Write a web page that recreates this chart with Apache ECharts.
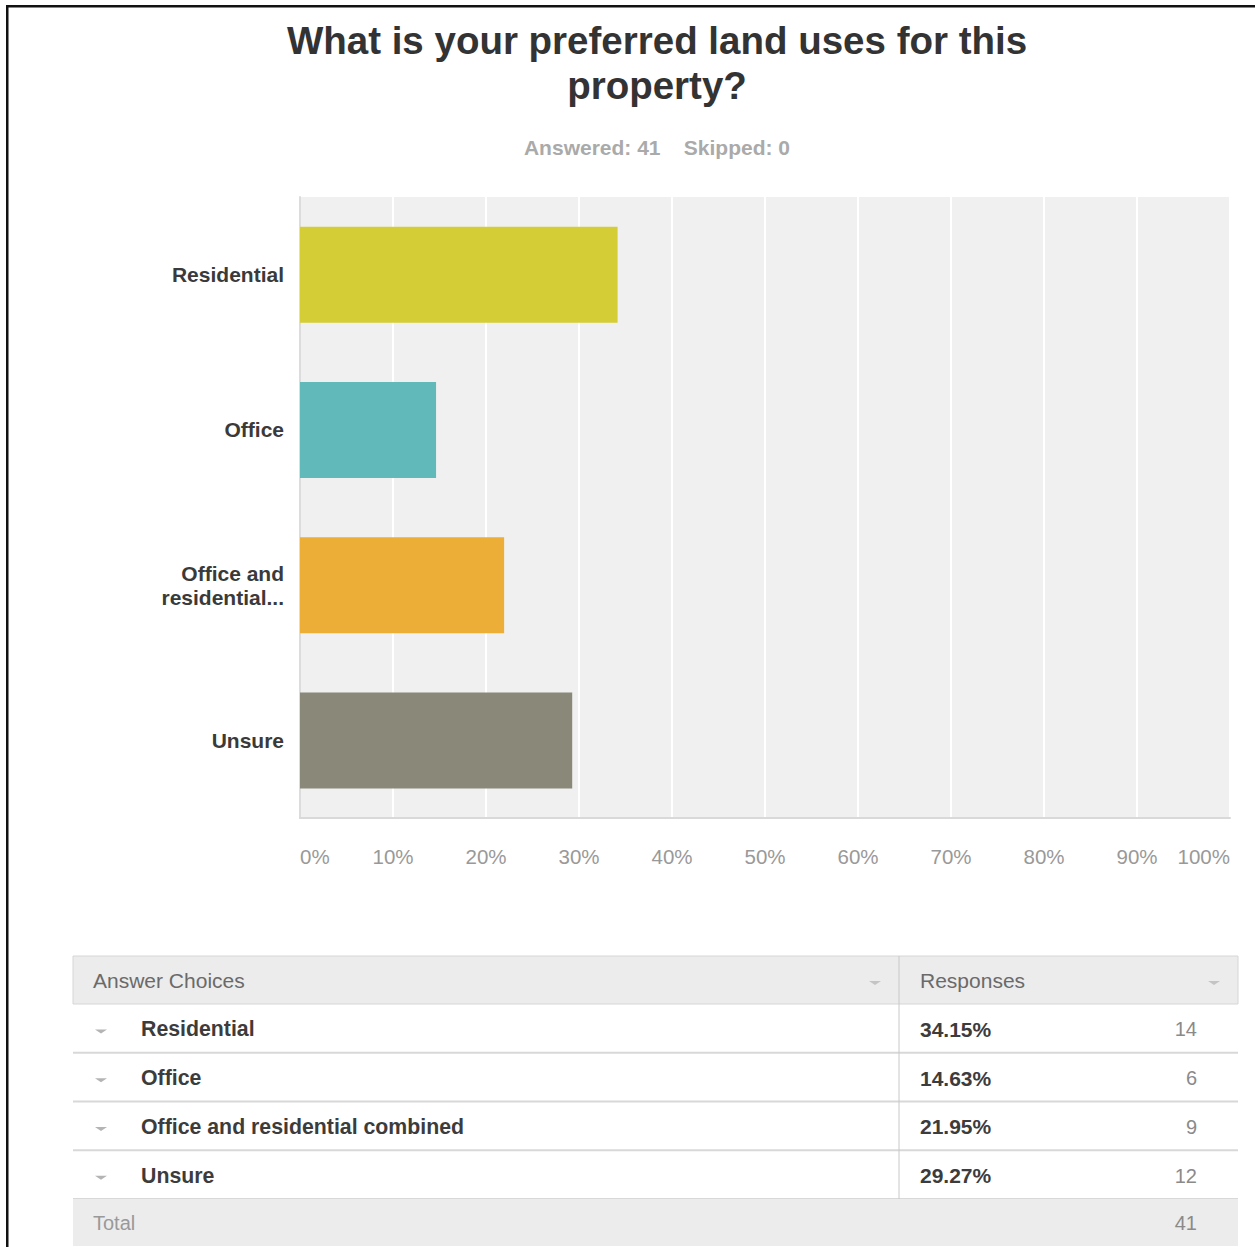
<!DOCTYPE html>
<html>
<head>
<meta charset="utf-8">
<style>
  html, body { margin: 0; padding: 0; background: #fff; }
  #main { width: 1255px; height: 1247px; }
</style>
<script src="https://cdn.jsdelivr.net/npm/echarts@6/dist/echarts.min.js"></script>
</head>
<body>
<div id="main"></div>
<script>
// answer choices (table names and shortened axis names)
var choices = ['Residential', 'Office', 'Office and residential combined', 'Unsure'];
var axisNames = ['Residential', 'Office', 'Office and\nresidential...', 'Unsure'];
// response share in percent and counts
var percents = [34.15, 14.63, 21.95, 29.27];
var counts = [14, 6, 9, 12];
var answered = 41, skipped = 0;
var barColors = ['#d4cd36', '#62b9b9', '#edae38', '#8a8878'];
var tickLabels = ['0%', '10%', '20%', '30%', '40%', '50%', '60%', '70%', '80%', '90%', '100%'];

var FONT = '"Liberation Sans", Arial, Helvetica, sans-serif';

var myChart = echarts.init(document.getElementById('main'), null, {renderer: 'svg'});

// table drawn with graphic elements
var tLeft = 73, tRight = 1238, colX = 899;
var headTop = 956, headH = 48, rowH = 48.75;
var rowsTop = headTop + headH;
var totalTop = rowsTop + rowH * choices.length;

var graphics = [];
// page frame lines (left and top)
graphics.push({type: 'rect', shape: {x: 6, y: 5, width: 1249, height: 2.5}, style: {fill: '#111'}});
graphics.push({type: 'rect', shape: {x: 6, y: 5, width: 2.5, height: 1242}, style: {fill: '#111'}});

// header
graphics.push({type: 'rect', shape: {x: tLeft, y: headTop, width: tRight - tLeft, height: headH},
  style: {fill: '#ececec', stroke: '#d6d6d6', lineWidth: 1}});
graphics.push({type: 'text', x: 93, y: headTop + headH / 2,
  style: {text: 'Answer Choices', font: '21px ' + FONT, fill: '#6a6a6a', verticalAlign: 'middle'}});
graphics.push({type: 'text', x: 920, y: headTop + headH / 2,
  style: {text: 'Responses', font: '21px ' + FONT, fill: '#6a6a6a', verticalAlign: 'middle'}});
[875, 1214].forEach(function (ax) {
  graphics.push({type: 'polygon', shape: {points: [[ax - 6, headTop + 25], [ax + 6, headTop + 25], [ax, headTop + 29]]},
    style: {fill: '#c4c4c4'}});
});

// body rows
for (var i = 0; i < choices.length; i++) {
  var rowY = rowsTop + rowH * i;
  var cy = rowY + rowH / 2 + 1;
  graphics.push({type: 'line', shape: {x1: tLeft, y1: rowY + rowH, x2: tRight, y2: rowY + rowH},
    style: {stroke: '#d8d8d8', lineWidth: 2}});
  graphics.push({type: 'polygon', shape: {points: [[95, cy], [107, cy], [101, cy + 4]]},
    style: {fill: '#b4b4b4'}});
  graphics.push({type: 'text', x: 141, y: cy,
    style: {text: choices[i], font: 'bold 21.3px ' + FONT, fill: '#3c3c3c', verticalAlign: 'middle'}});
  graphics.push({type: 'text', x: 920, y: cy,
    style: {text: percents[i].toFixed(2) + '%', font: 'bold 21px ' + FONT, fill: '#3c3c3c', verticalAlign: 'middle'}});
  graphics.push({type: 'text', x: 1197, y: cy,
    style: {text: String(counts[i]), font: '20px ' + FONT, fill: '#8a8a8a', align: 'right', verticalAlign: 'middle'}});
}
// column divider
graphics.push({type: 'line', shape: {x1: colX, y1: headTop, x2: colX, y2: totalTop},
  style: {stroke: '#c8c8c8', lineWidth: 1}});

// total row
graphics.push({type: 'rect', shape: {x: tLeft, y: totalTop, width: tRight - tLeft, height: 47},
  style: {fill: '#ececec'}});
graphics.push({type: 'text', x: 93, y: totalTop + 24,
  style: {text: 'Total', font: '20px ' + FONT, fill: '#999', verticalAlign: 'middle'}});
graphics.push({type: 'text', x: 1197, y: totalTop + 24,
  style: {text: String(answered), font: '20px ' + FONT, fill: '#8a8a8a', align: 'right', verticalAlign: 'middle'}});

var option = {
  backgroundColor: '#fff',
  animation: false,
  title: {
    text: 'What is your preferred land uses for this\nproperty?',
    subtext: 'Answered: ' + answered + '    Skipped: ' + skipped,
    left: 652,
    textAlign: 'center',
    top: 13,
    itemGap: 29,
    textStyle: {fontFamily: FONT, fontSize: 38.5, fontWeight: 'bold', color: '#333', lineHeight: 45},
    subtextStyle: {fontFamily: FONT, fontSize: 21, fontWeight: 'bold', color: '#aaa'}
  },
  grid: {
    left: 300, top: 197, width: 930, height: 621,
    show: true, backgroundColor: '#f0f0f0', borderWidth: 0
  },
  xAxis: {
    type: 'value',
    min: 0, max: 100, interval: 10,
    axisLine: {show: true, lineStyle: {color: '#d9d9d9', width: 2}},
    axisTick: {show: false},
    splitLine: {show: true, lineStyle: {color: '#ffffff', width: 2}},
    axisLabel: {
      margin: 28,
      fontFamily: FONT, fontSize: 20.5, color: '#999',
      alignMinLabel: 'left', alignMaxLabel: 'right',
      formatter: function (v) { return tickLabels[Math.round(v / 10)]; }
    }
  },
  yAxis: {
    type: 'category',
    inverse: true,
    data: axisNames,
    axisLine: {show: true, lineStyle: {color: '#dcdcdc', width: 2}},
    axisTick: {show: false},
    axisLabel: {
      margin: 16,
      fontFamily: FONT, fontSize: 21, fontWeight: 'bold', color: '#3a3a3a', lineHeight: 24
    }
  },
  series: [{
    type: 'bar',
    data: percents.map(function (v, i) {
      return {value: v, itemStyle: {color: barColors[i]}};
    }),
    barWidth: 96,
    silent: true
  }],
  graphic: graphics
};

myChart.setOption(option);
</script>
</body>
</html>
